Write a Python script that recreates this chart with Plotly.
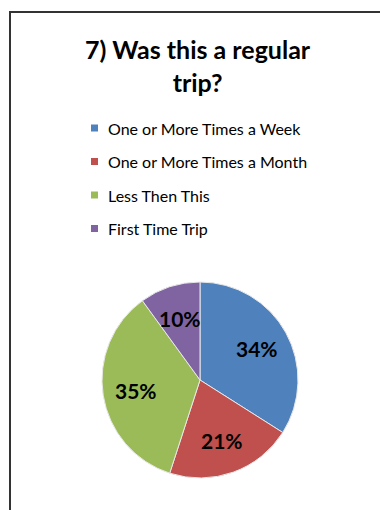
import math
import plotly.graph_objects as go

# Survey responses: how often the trip is made
categories = ["One or More Times a Week", "One or More Times a Month",
              "Less Then This", "First Time Trip"]
shares = [34, 21, 35, 10]
colors = ["#4F81BD", "#C0504D", "#9BBB59", "#8064A2"]
title_text = "7) Was this a regular<br>trip?"

W, H = 380, 510
FONT = "Lato, 'Open Sans', sans-serif"

# Pie geometry (pixels from top-left)
CX, CY, R = 200, 380, 98
LABEL_R = 0.66

fig = go.Figure(go.Pie(
    labels=categories,
    values=shares,
    sort=False,
    direction="clockwise",
    rotation=0,
    marker=dict(colors=colors, line=dict(color="#e8e8e8", width=1)),
    textinfo="none",
    domain=dict(x=[(CX - R) / W, (CX + R) / W], y=[1 - (CY + R) / H, 1 - (CY - R) / H]),
    showlegend=False,
    hoverinfo="label+percent",
))

shapes = []
annotations = []

# Percentage labels placed at the middle angle of each slice
total = sum(shares)
cum = 0
for v in shares:
    mid = (cum + v / 2) / total * 2 * math.pi
    cum += v
    px = CX + LABEL_R * R * math.sin(mid)
    py = CY - LABEL_R * R * math.cos(mid)
    annotations.append(dict(text=f"{round(100 * v / total)}%", xref="paper", yref="paper",
                            x=px / W, y=1 - py / H, xanchor="center", yanchor="middle",
                            showarrow=False,
                            font=dict(family=FONT, size=21, color="#000000", weight="bold")))

# Manual legend: colour square plus category name per row
legend_top = 128
legend_step = 33.5
for i, (name, col) in enumerate(zip(categories, colors)):
    yc = legend_top + i * legend_step
    shapes.append(dict(type="rect", xref="paper", yref="paper",
                       x0=91 / W, x1=98 / W,
                       y0=1 - (yc + 3.5) / H, y1=1 - (yc - 3.5) / H,
                       fillcolor=col, line=dict(width=0)))
    annotations.append(dict(text=name, xref="paper", yref="paper",
                            x=106 / W, y=1 - yc / H, xanchor="left", yanchor="middle",
                            showarrow=False,
                            font=dict(family=FONT, size=16, color="#000000")))

# Title
annotations.append(dict(text=title_text, xref="paper", yref="paper",
                        x=198 / W, y=1 - 66 / H, xanchor="center", yanchor="middle",
                        showarrow=False,
                        font=dict(family=FONT, size=25, color="#000000", weight="bold")))

# Chart frame
shapes.append(dict(type="rect", xref="paper", yref="paper",
                   x0=10 / W, x1=1.05, y0=-0.05, y1=1 - 12 / H,
                   line=dict(color="#333333", width=2), fillcolor="rgba(0,0,0,0)"))

fig.update_layout(
    width=W, height=H,
    margin=dict(l=0, r=0, t=0, b=0),
    paper_bgcolor="#ffffff",
    plot_bgcolor="#ffffff",
    shapes=shapes,
    annotations=annotations,
)

fig.write_html("out.html")
